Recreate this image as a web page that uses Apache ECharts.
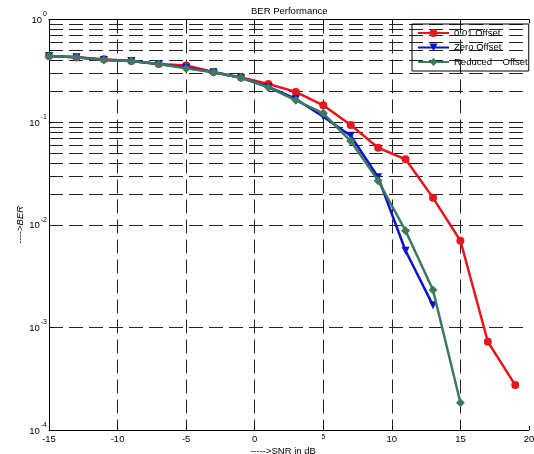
<!DOCTYPE html>
<html>
<head>
<meta charset="utf-8">
<script src="https://cdn.jsdelivr.net/npm/echarts@6/dist/echarts.min.js"></script>
<style>
html,body{margin:0;padding:0;background:#fff;}
#chart{width:534px;height:454px;}
</style>
</head>
<body>
<div id="chart"></div>
<script>
// ---- data ----
var snr = [-15, -13, -11, -9, -7, -5, -3, -1, 1, 3, 5, 7, 9, 11, 13, 15, 17, 19];
var offset001 = [0.441, 0.428, 0.41, 0.394, 0.368, 0.356, 0.308, 0.272, 0.235, 0.197, 0.146, 0.0937, 0.0563, 0.0434, 0.0183, 0.00698, 0.000724, 0.000274];
var zeroOffset = [0.441, 0.428, 0.403, 0.394, 0.368, 0.338, 0.306, 0.27, 0.22, 0.168, 0.113, 0.0737, 0.029, 0.00558, 0.00164];
var reducedOffset = [0.441, 0.428, 0.403, 0.394, 0.368, 0.334, 0.306, 0.271, 0.218, 0.163, 0.122, 0.0654, 0.0269, 0.00874, 0.00231, 0.000184];
var seriesNames = ['0.01 Offset', 'Zero Offset', 'Reduced    Offset'];
var xTicks = [-15, -10, -5, 0, 5, 10, 15, 20];
var yDecades = [-4, -3, -2, -1, 0];

function pairs(vals) { return vals.map(function (v, i) { return [snr[i], v]; }); }

// minor log grid values (2..9 x 10^k)
var minorGrid = [];
for (var d = 0; d < yDecades.length - 1; d++) {
  for (var m = 2; m <= 9; m++) minorGrid.push(m * Math.pow(10, yDecades[d]));
}

var FONT = 'Liberation Sans, Arial, sans-serif';
var gridLine = { color: '#222', width: 1, type: [14, 6] };

var chart = echarts.init(document.getElementById('chart'), null, { renderer: 'canvas' });
chart.setOption({
  animation: false,
  backgroundColor: '#fff',
  textStyle: { fontFamily: FONT },
  title: {
    text: 'BER Performance',
    left: 251,
    top: 0,
    padding: [6, 0, 0, 0],
    textStyle: { fontSize: 9.5, fontWeight: 'normal', color: '#000', fontFamily: FONT }
  },
  grid: { left: 49, right: 5, top: 19.5, bottom: 24, containLabel: false, outerBoundsMode: 'none' },
  legend: {
    data: seriesNames,
    orient: 'vertical',
    left: 412,
    top: 24,
    padding: [4, 1, 4, 5],
    itemGap: 4.5,
    itemWidth: 31,
    itemHeight: 10,
    borderColor: '#000',
    borderWidth: 1,
    backgroundColor: 'transparent',
    textStyle: { fontSize: 9.5, color: '#000', lineHeight: 10, fontFamily: FONT }
  },
  xAxis: [{
    type: 'value',
    min: xTicks[0],
    max: xTicks[xTicks.length - 1],
    interval: 5,
    name: '----->SNR in dB',
    nameLocation: 'middle',
    nameGap: 16,
    nameMoveOverlap: false,
    nameTextStyle: { fontSize: 9.5, color: '#000', padding: [0, 12, 0, 0] },
    axisLine: { show: true, onZero: false, lineStyle: { color: '#000', width: 1 } },
    axisTick: { show: true, inside: true, length: 4, lineStyle: { color: '#000' } },
    axisLabel: {
      margin: 4, fontSize: 9.5, color: '#000',
      formatter: function (v) { return v === 5 ? '{s|5}' : String(v); },
      rich: { s: { fontSize: 6.5, color: '#000' } }
    },
    splitLine: { show: true, showMinLine: false, showMaxLine: false, lineStyle: gridLine }
  }, {
    type: 'value',
    position: 'top',
    min: xTicks[0],
    max: xTicks[xTicks.length - 1],
    interval: 5,
    axisLine: { show: true, onZero: false, lineStyle: { color: '#000', width: 1 } },
    axisTick: { show: true, inside: true, length: 4, lineStyle: { color: '#000' } },
    axisLabel: { show: false },
    splitLine: { show: false }
  }],
  yAxis: {
    type: 'log',
    logBase: 10,
    min: Math.pow(10, yDecades[0]),
    max: Math.pow(10, yDecades[yDecades.length - 1]),
    splitNumber: 4,
    name: '{a|---->}{b|BER}',
    nameLocation: 'middle',
    nameGap: 24,
    nameMoveOverlap: false,
    nameTextStyle: {
      fontSize: 9.5, color: '#000',
      rich: { a: { fontSize: 9.5, color: '#000' }, b: { fontSize: 9.5, fontStyle: 'italic', color: '#000' } }
    },
    axisLine: { show: true, onZero: false, lineStyle: { color: '#000', width: 1 } },
    axisTick: { show: true, inside: true, length: 4, lineStyle: { color: '#000' } },
    axisLabel: {
      margin: 2, color: '#000',
      formatter: function (v) {
        var e = Math.round(Math.log10(v));
        return '{b|10}{s|' + e + '}';
      },
      rich: {
        b: { fontSize: 9.5, color: '#000', padding: [2, 0, 0, 0] },
        s: { fontSize: 7, color: '#000', padding: [0, 0, 10, 1] }
      }
    },
    splitLine: { show: true, lineStyle: gridLine }
  },
  series: [{
    name: 'grid',
    type: 'line',
    data: [],
    symbol: 'none',
    silent: true,
    markLine: {
      silent: true,
      z: 1,
      symbol: ['none', 'none'],
      label: { show: false },
      emphasis: { disabled: true },
      lineStyle: gridLine,
      data: minorGrid.map(function (v) { return { yAxis: v }; })
    }
  }, {
    name: seriesNames[0],
    type: 'line',
    data: pairs(offset001),
    symbol: 'circle',
    symbolSize: 8,
    color: '#e8161b',
    lineStyle: { width: 2.5, color: '#e8161b' },
    itemStyle: { color: '#e8161b' },
    z: 3
  }, {
    name: seriesNames[1],
    type: 'line',
    data: pairs(zeroOffset),
    symbol: 'triangle',
    symbolRotate: 180,
    symbolSize: 8,
    color: '#0c12c8',
    lineStyle: { width: 2.5, color: '#0c12c8' },
    itemStyle: { color: '#0c12c8' },
    z: 4
  }, {
    name: seriesNames[2],
    type: 'line',
    data: pairs(reducedOffset),
    symbol: 'diamond',
    symbolSize: 9,
    color: '#3b7a5f',
    lineStyle: { width: 2.5, color: '#3b7a5f' },
    itemStyle: { color: '#3b7a5f' },
    z: 5
  }]
});
</script>
</body>
</html>
